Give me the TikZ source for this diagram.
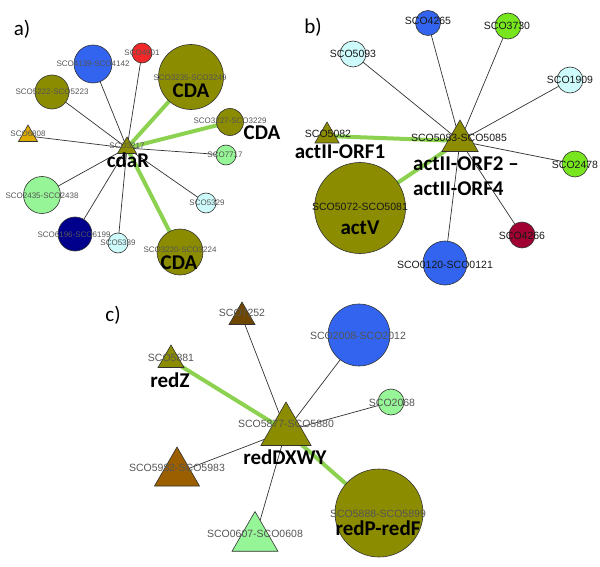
\documentclass[tikz,border=0pt]{standalone}
\usepackage{fontspec}
\setmainfont{Liberation Sans}
\newfontfamily\calib{Carlito}
\usetikzlibrary{shapes.geometric}
\pgfdeclarelayer{bg}\pgfsetlayers{bg,main}
\definecolor{olive}{RGB}{140,140,0}
\definecolor{blueN}{RGB}{50,100,240}
\definecolor{redN}{RGB}{240,40,40}
\definecolor{goldN}{RGB}{220,170,0}
\definecolor{lgreen}{RGB}{150,245,150}
\definecolor{navyN}{RGB}{0,0,140}
\definecolor{lcyan}{RGB}{205,250,250}
\definecolor{lime}{RGB}{120,230,30}
\definecolor{maroonN}{RGB}{160,0,50}
\definecolor{dbrown}{RGB}{110,70,0}
\definecolor{brownN}{RGB}{155,95,0}
\definecolor{edgeG}{RGB}{140,210,80}
\definecolor{outl}{RGB}{50,50,50}
\definecolor{labgray}{RGB}{85,85,85}
\definecolor{labdark}{RGB}{25,25,25}
\tikzset{
  nd/.style={circle,draw=outl,line width=0.6pt,inner sep=0pt,minimum size=#1},
  tri/.style={regular polygon,regular polygon sides=3,draw=outl,line width=0.6pt,inner sep=0pt,minimum size=#1},
  laba/.style={font=\fontsize{8}{9}\selectfont,text=labgray,inner sep=0pt},
  labb/.style={font=\fontsize{10.5}{11}\selectfont,text=labdark,inner sep=0pt},
  labc/.style={font=\fontsize{10.5}{11}\selectfont,text=labgray,inner sep=0pt},
  big/.style={font=\calib\bfseries\fontsize{21}{22}\selectfont,inner sep=0pt},
  panel/.style={font=\calib\fontsize{21}{22}\selectfont,inner sep=0pt},
  thinE/.style={draw=outl,line width=0.7pt},
  thickE/.style={draw=edgeG,line width=4pt},
}
\begin{document}
\begin{tikzpicture}[x=1pt,y=-1pt]
\useasboundingbox (0,0) rectangle (600,567);
% ---------- panel a ----------
\node[panel] (pa) at (22,29) {a)};
\node[nd=38pt,fill=blueN] (a1) at (93,64) {};
\node[nd=20pt,fill=redN] (a2) at (142,53) {};
\node[nd=34pt,fill=olive] (a3) at (52,92) {};
\node[tri=22pt,fill=goldN] (a4) at (28,136) {};
\node[tri=22pt,fill=olive] (ac) at (127,148) {};
\node[nd=65pt,fill=olive] (a5) at (191,77) {};
\node[nd=27pt,fill=olive] (a6) at (230,122) {};
\node[nd=20pt,fill=lgreen] (a7) at (226,155) {};
\node[nd=20pt,fill=lcyan] (a8) at (206,203) {};
\node[nd=46pt,fill=olive] (a9) at (180,252) {};
\node[nd=20pt,fill=lcyan] (a10) at (118,243) {};
\node[nd=34pt,fill=navyN] (a11) at (75,234) {};
\node[nd=37pt,fill=lgreen] (a12) at (42,195) {};
\begin{pgfonlayer}{bg}
\foreach \t in {a1,a2,a3,a4,a7,a8,a10,a11,a12} \draw[thinE] (ac.center) -- (\t.center);
\foreach \t in {a5,a6,a9} \draw[thickE] (ac.center) -- (\t.center);
\end{pgfonlayer}
\node[laba] (la1) at (93,64) {SCO4139-SCO4142};
\node[laba] (la2) at (142,53) {SCO4901};
\node[laba] (la3) at (52,92) {SCO5222-SCO5223};
\node[laba] (la4) at (28,134) {SCO6808};
\node[laba] (lac) at (127,146) {SCO3217};
\node[big] (bac) at (128,160) {cdaR};
\node[laba] (la5) at (190,78) {SCO3235-SCO3249};
\node[big] (ba5) at (191,91) {CDA};
\node[laba] (la6) at (230,121) {SCO3227-SCO3229};
\node[big] (ba6) at (262,133) {CDA};
\node[laba] (la7) at (225,155) {SCO7717};
\node[laba] (la8) at (207,203) {SCO5329};
\node[laba] (la9) at (180,250) {SCO3220-SCO3224};
\node[big] (ba9) at (179,263) {CDA};
\node[laba] (la10) at (118,243) {SCO5389};
\node[laba] (la11) at (74,235) {SCO6196-SCO6199};
\node[laba] (la12) at (42,196) {SCO2435-SCO2438};
% ---------- panel b ----------
\node[panel] (pb) at (313,27) {b)};
\node[nd=25pt,fill=blueN] (b1) at (428,23) {};
\node[nd=26pt,fill=lime] (b2) at (508,26) {};
\node[nd=26pt,fill=lcyan] (b3) at (353,54) {};
\node[nd=26pt,fill=lcyan] (b4) at (570,80) {};
\node[tri=28pt,fill=olive] (b5) at (327,136) {};
\node[tri=42pt,fill=olive] (bc) at (460,141) {};
\node[nd=26pt,fill=lime] (b6) at (575,164) {};
\node[nd=26pt,fill=maroonN] (b7) at (522,235) {};
\node[nd=44pt,fill=blueN] (b8) at (445,263) {};
\node[nd=91pt,fill=olive] (b9) at (360,208) {};
\begin{pgfonlayer}{bg}
\foreach \t in {b1,b2,b3,b4,b6,b7,b8} \draw[thinE] (bc.center) -- (\t.center);
\foreach \t in {b5,b9} \draw[thickE] (bc.center) -- (\t.center);
\end{pgfonlayer}
\node[labb] (lb1) at (428,21) {SCO4265};
\node[labb] (lb2) at (507,26) {SCO3730};
\node[labb] (lb3) at (353,54) {SCO5093};
\node[labb] (lb4) at (570,80) {SCO1909};
\node[labb] (lb5) at (328,134) {SCO5082};
\node[big] (bb5) at (340,152) {actII-ORF1};
\node[labb] (lbc) at (459,138) {SCO5083-SCO5085};
\node[big,anchor=west] (bbc1) at (413,164) {actII-ORF2 –};
\node[big,anchor=west] (bbc2) at (413,189) {actII-ORF4};
\node[labb] (lb6) at (575,165) {SCO2478};
\node[labb] (lb7) at (522,236) {SCO4266};
\node[labb] (lb8) at (445,265) {SCO0120-SCO0121};
\node[labb] (lb9) at (360,207) {SCO5072-SCO5081};
\node[big] (bb9) at (360,228) {actV};
% ---------- panel c ----------
\node[panel] (pc) at (113,315) {c)};
\node[tri=30pt,fill=dbrown] (c1) at (242,317) {};
\node[tri=30pt,fill=olive] (c2) at (171,360) {};
\node[tri=58pt,fill=olive] (cc) at (286,431) {};
\node[nd=62pt,fill=blueN] (c3) at (359,335) {};
\node[nd=26pt,fill=lgreen] (c4) at (391,402) {};
\node[tri=52pt,fill=brownN] (c5) at (177,473) {};
\node[tri=53pt,fill=lgreen] (c6) at (255,538) {};
\node[nd=88pt,fill=olive] (c7) at (379,513) {};
\begin{pgfonlayer}{bg}
\foreach \t in {c1,c3,c4,c5,c6} \draw[thinE] (cc.center) -- (\t.center);
\foreach \t in {c2,c7} \draw[thickE] (cc.center) -- (\t.center);
\end{pgfonlayer}
\node[labc] (lc1) at (242,313) {SCO7252};
\node[labc] (lc2) at (171,358) {SCO5881};
\node[big] (bc2) at (170,380) {redZ};
\node[labc] (lc3) at (358,336) {SCO2008-SCO2012};
\node[labc] (lc4) at (392,403) {SCO2068};
\node[labc] (lcc) at (286,424) {SCO5877-SCO5880};
\node[big] (bcc) at (285,457) {redDXWY};
\node[labc] (lc5) at (177,468) {SCO5982-SCO5983};
\node[labc] (lc6) at (255,534) {SCO0607-SCO0608};
\node[labc] (lc7) at (378,514) {SCO5888-SCO5899};
\node[big] (bc7) at (378,528) {redP-redF};
\end{tikzpicture}
\end{document}
